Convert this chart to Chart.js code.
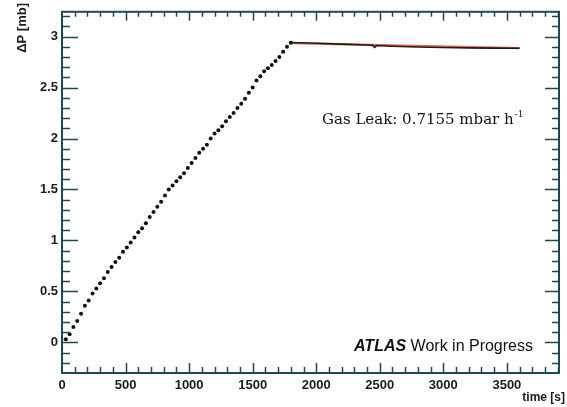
<!DOCTYPE html>
<html>
<head>
<meta charset="utf-8">
<script src="https://cdn.jsdelivr.net/npm/chart.js"></script>
<style>
  html, body { margin: 0; padding: 0; background: #fff; }
  #wrap { width: 567px; height: 407px; }
</style>
</head>
<body>
<div id="wrap"><canvas id="leakChart" width="567" height="407"></canvas></div>
<script>
// pressure rise while filling (dots)
const riseTimes = [30, 60, 90, 120, 150, 180, 210, 240, 270, 300,
  330, 360, 390, 420, 450, 480, 510, 540, 570, 600,
  630, 660, 690, 720, 750, 780, 810, 840, 870, 900,
  930, 960, 990, 1020, 1050, 1080, 1110, 1140, 1170, 1200,
  1230, 1260, 1290, 1320, 1350, 1380, 1410, 1440, 1470, 1500,
  1530, 1560, 1590, 1620, 1650, 1680, 1710, 1740, 1770, 1800];
const riseValues = [0.03, 0.08, 0.15, 0.21, 0.28, 0.36, 0.41, 0.48, 0.53, 0.58,
  0.63, 0.69, 0.74, 0.79, 0.83, 0.89, 0.93, 0.98, 1.03, 1.08,
  1.12, 1.17, 1.23, 1.28, 1.33, 1.38, 1.44, 1.50, 1.54, 1.58,
  1.62, 1.66, 1.71, 1.76, 1.81, 1.86, 1.90, 1.94, 2.00, 2.05,
  2.08, 2.12, 2.17, 2.21, 2.25, 2.30, 2.34, 2.39, 2.45, 2.50,
  2.57, 2.61, 2.66, 2.69, 2.72, 2.76, 2.80, 2.85, 2.90, 2.94];

// closed volume, pressure decay
const flatTimes = [1800, 2000, 2200, 2400, 2445, 2460, 2475, 2600, 2800, 3000, 3200, 3400, 3600];
const flatValues = [2.942, 2.935, 2.926, 2.917, 2.914, 2.895, 2.912, 2.905, 2.898, 2.893, 2.889, 2.887, 2.886];

// linear fit
const fitTimes = [1800, 3600];
const fitValues = [2.936, 2.887];

// axis ticks
const xTicks = [0, 500, 1000, 1500, 2000, 2500, 3000, 3500];
const yTicks = [0, 0.5, 1, 1.5, 2, 2.5, 3];

const frameColor = '#1f4855';
const labelFont = 'Liberation Sans, Arial, sans-serif';

function toPoints(xs, ys) {
  return xs.map((x, i) => ({ x: x, y: ys[i] }));
}

// ROOT style frame: box with ticks pointing inwards on all sides
const frameAndTextPlugin = {
  id: 'frameAndText',
  afterDraw(chart) {
    const ctx = chart.ctx;
    const area = chart.chartArea;
    const xs = chart.scales.x;
    const ys = chart.scales.y;

    ctx.save();
    ctx.strokeStyle = frameColor;
    ctx.lineWidth = 2;
    ctx.strokeRect(area.left, area.top, area.right - area.left, area.bottom - area.top);

    ctx.lineWidth = 1.5;
    ctx.beginPath();
    // x ticks, every 100, major every 500
    for (let v = 100; v < xs.max; v += 100) {
      const px = Math.round(xs.getPixelForValue(v)) + 0.5;
      const major = v % 500 === 0;
      ctx.moveTo(px, area.bottom);
      ctx.lineTo(px, area.bottom - (major ? 10 : 6));
      ctx.moveTo(px, area.top);
      ctx.lineTo(px, area.top + (major ? 9 : 5));
    }
    // y ticks, every 0.1, major every 0.5
    for (let i = -2; i <= 32; i++) {
      const v = i / 10;
      const py = Math.round(ys.getPixelForValue(v)) + 0.5;
      const major = i % 5 === 0;
      ctx.moveTo(area.left, py);
      ctx.lineTo(area.left + (major ? 16 : 8), py);
      ctx.moveTo(area.right, py);
      ctx.lineTo(area.right - (major ? 14 : 7), py);
    }
    ctx.stroke();

    // axis titles
    ctx.fillStyle = '#1a1a1a';
    ctx.font = 'bold 12px ' + labelFont;
    ctx.textAlign = 'right';
    ctx.textBaseline = 'alphabetic';
    ctx.fillText('time [s]', 565, 401);

    ctx.save();
    ctx.translate(26, 3);
    ctx.rotate(-Math.PI / 2);
    ctx.font = 'bold 13px ' + labelFont;
    ctx.textAlign = 'right';
    ctx.fillText('\u0394P [mb]', 0, 0);
    ctx.restore();

    // fit result
    ctx.textAlign = 'left';
    ctx.fillStyle = '#111';
    ctx.font = '15px DejaVu Serif, serif';
    const leak = 'Gas Leak: 0.7155 mbar h';
    ctx.fillText(leak, 322, 124);
    const w = ctx.measureText(leak).width;
    ctx.font = '9px DejaVu Serif, serif';
    ctx.fillText('-1', 322 + w + 1, 117);

    // experiment tag
    ctx.fillStyle = '#111';
    ctx.font = 'italic bold 16px ' + labelFont;
    ctx.fillText('ATLAS', 354, 351);
    const aw = ctx.measureText('ATLAS').width;
    ctx.font = '16px ' + labelFont;
    ctx.fillText(' Work in Progress', 354 + aw, 351);
    ctx.restore();
  }
};

function renderLeakChart() {
  const ctx = document.getElementById('leakChart').getContext('2d');

  new Chart(ctx, {
    type: 'scatter',
    data: {
      datasets: [
        {
          label: 'fit',
          data: toPoints(fitTimes, fitValues),
          showLine: true,
          borderColor: '#f2694f',
          borderWidth: 2.2,
          pointRadius: 0,
          order: 2
        },
        {
          label: 'decay',
          data: toPoints(flatTimes, flatValues),
          showLine: true,
          borderColor: '#1c1c1c',
          borderWidth: 1.6,
          pointRadius: 0,
          order: 1
        },
        {
          label: 'rise',
          data: toPoints(riseTimes, riseValues),
          backgroundColor: '#111',
          borderWidth: 0,
          pointRadius: 2,
          order: 0
        }
      ]
    },
    options: {
      responsive: false,
      animation: false,
      layout: { padding: { top: 9, right: 8, left: 0, bottom: 0 } },
      plugins: {
        legend: { display: false },
        tooltip: { enabled: false }
      },
      scales: {
        x: {
          type: 'linear',
          min: 0,
          max: 3910,
          grid: { display: false, drawTicks: false },
          border: { display: false },
          afterBuildTicks: scale => { scale.ticks = xTicks.map(v => ({ value: v })); },
          afterFit: scale => { scale.height = 34; },
          ticks: {
            padding: 5,
            maxRotation: 0,
            color: '#1a1a1a',
            font: { family: labelFont, size: 13, weight: 'bold' },
            callback: v => String(v)
          }
        },
        y: {
          type: 'linear',
          min: -0.3,
          max: 3.243,
          grid: { display: false, drawTicks: false },
          border: { display: false },
          afterBuildTicks: scale => { scale.ticks = yTicks.map(v => ({ value: v })); },
          afterFit: scale => { scale.width = 62; },
          ticks: {
            padding: 4,
            color: '#1a1a1a',
            font: { family: labelFont, size: 13, weight: 'bold' },
            callback: v => String(v)
          }
        }
      }
    },
    plugins: [frameAndTextPlugin]
  });
}

renderLeakChart();
</script>
</body>
</html>
